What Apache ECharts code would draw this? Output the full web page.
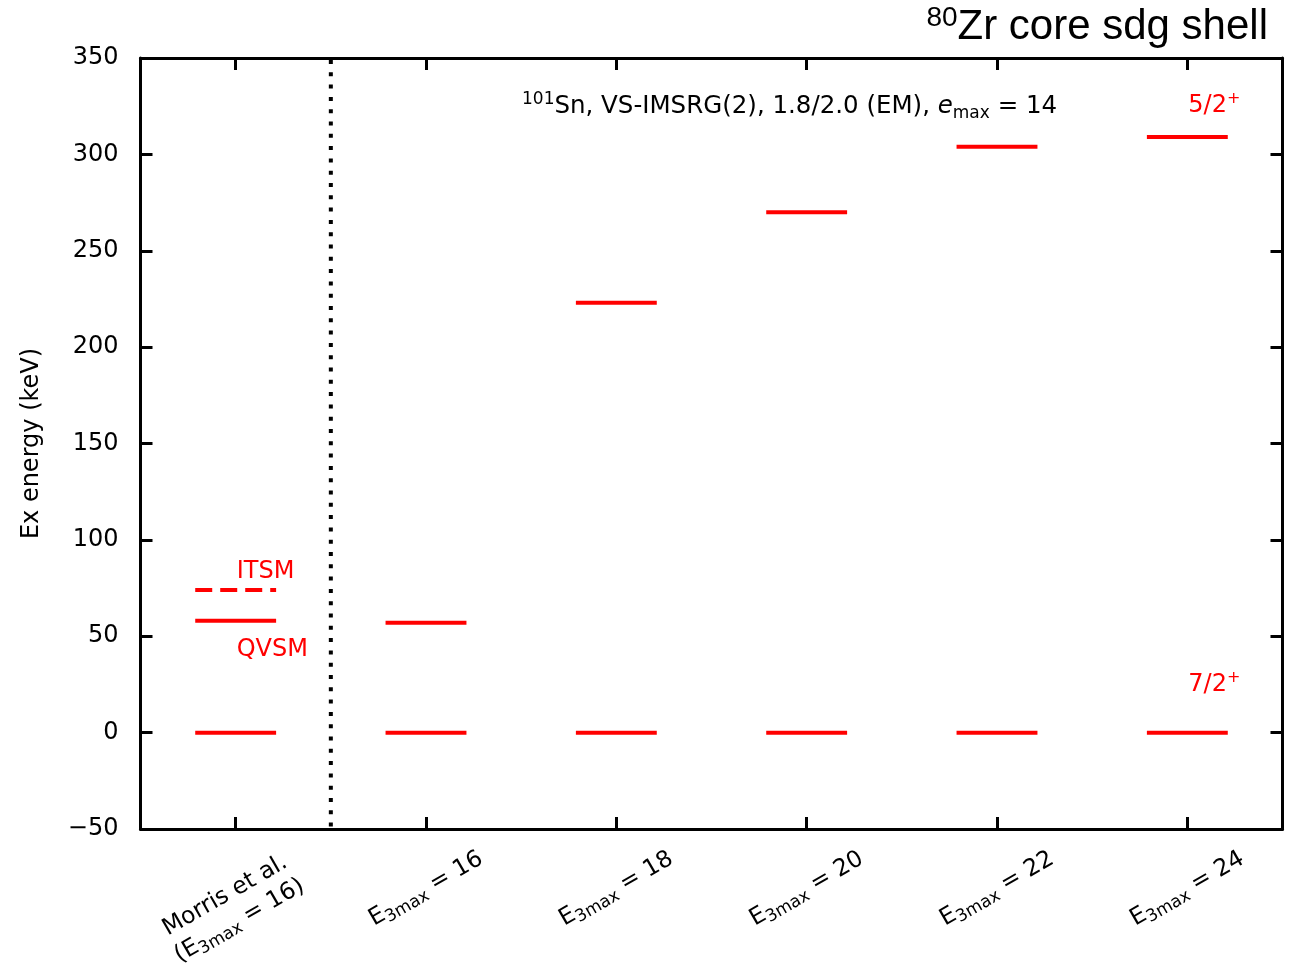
<!DOCTYPE html>
<html>
<head>
<meta charset="utf-8">
<script src="https://cdn.jsdelivr.net/npm/echarts@6/dist/echarts.min.js"></script>
<style>
  html, body { margin: 0; padding: 0; background: #fff; }
  #chart { width: 1299px; height: 968px; }
</style>
</head>
<body>
<div id="chart"></div>
<script>
// Calculation labels along the x axis
const categories = ['Morris et al.\n(E3max = 16)', 'E3max = 16', 'E3max = 18', 'E3max = 20', 'E3max = 22', 'E3max = 24'];
// 7/2+ ground-state level (keV)
const groundLevels = [0, 0, 0, 0, 0, 0];
// 5/2+ level (keV); first entry is the QVSM value of Morris et al.
const excitedLevels = [58, 57, 223, 270, 304, 309];
// 5/2+ level from ITSM (keV), Morris et al. only
const itsmLevels = [74, null, null, null, null, null];
// Energy axis range and step (keV)
const yMin = -50, yMax = 350, yStep = 50;

const FONT = 'DejaVu Sans';
const RED = '#ff0000';

const chart = echarts.init(document.getElementById('chart'), null, { renderer: 'canvas' });

// rich-text markup for "E3max" style labels
function lineToRich(line) {
  const parts = line.split('E3max');
  let out = '';
  parts.forEach((p, k) => {
    if (k > 0) out += '{e|E}{s|3max}';
    if (p.length) out += '{n|' + p + '}';
  });
  return out;
}
function toRich(str) {
  const lines = str.split('\n');
  if (lines.length === 1) return lineToRich(str);
  // two-line label: spacer line on top and spacer at line ends push it down-left
  return '{vg| }\n' + lines.map(l => lineToRich(l) + '{hg| }').join('\n');
}

function levelSeries(name, values, dashed) {
  const data = [];
  values.forEach((v, i) => { if (v !== null) data.push([i, v]); });
  return {
    type: 'custom',
    name,
    coordinateSystem: 'cartesian2d',
    encode: { x: 0, y: 1 },
    data,
    z: 5,
    renderItem(params, api) {
      const c = api.coord([api.value(0), api.value(1)]);
      const half = api.size([1, 0])[0] * 0.2125;
      return {
        type: 'line',
        shape: { x1: c[0] - half, y1: c[1], x2: c[0] + half, y2: c[1] },
        style: { stroke: RED, lineWidth: 4, lineDash: dashed ? [17, 8] : null, fill: null }
      };
    }
  };
}

// state labels placed next to the levels they name
const annotations = [
  { cat: 0, value: itsmLevels[0], text: '{t|ITSM}', dy: -18 },
  { cat: 0, value: excitedLevels[0], text: '{t|QVSM}', dy: 29 },
  { cat: 5, value: excitedLevels[5], text: '{t|5/2}{p|+}', dy: -31 },
  { cat: 5, value: groundLevels[5], text: '{t|7/2}{p|+}', dy: -48 }
];

const option = {
  backgroundColor: '#fff',
  animation: false,
  grid: { left: 140.5, right: 16.5, top: 58, bottom: 139, containLabel: false, outerBoundsMode: 'none' },
  title: {
    text: '{sup|80}{m|Zr core sdg shell}',
    right: 26,
    top: -1,
    textStyle: {
      rich: {
        sup: { fontFamily: 'Liberation Sans', fontWeight: 'normal', fontSize: 28, color: '#000', verticalAlign: 'top', lineHeight: 46 },
        m: { fontFamily: 'Liberation Sans', fontWeight: 'normal', fontSize: 42, color: '#000', lineHeight: 46 }
      }
    }
  },
  graphic: [{
    type: 'text',
    left: 522,
    top: 91,
    style: {
      text: '{sup|101}{n|Sn, VS-IMSRG(2), 1.8/2.0 (EM), }{i|e}{sub|max}{n| = 14}',
      rich: {
        sup: { fontFamily: FONT, fontSize: 17, fill: '#000', verticalAlign: 'top', lineHeight: 31 },
        n: { fontFamily: FONT, fontSize: 24.5, fill: '#000', lineHeight: 31 },
        i: { fontFamily: FONT, fontStyle: 'italic', fontSize: 24.5, fill: '#000', lineHeight: 31 },
        sub: { fontFamily: FONT, fontSize: 17, fill: '#000', verticalAlign: 'bottom', lineHeight: 31 }
      }
    },
    z: 10
  }],
  xAxis: [{
    type: 'category',
    data: categories,
    position: 'bottom',
    boundaryGap: true,
    axisLine: { onZero: false, lineStyle: { color: '#000', width: 3 } },
    axisTick: { show: true, inside: true, alignWithLabel: true, length: 12, lineStyle: { color: '#000', width: 3 } },
    splitLine: { show: false },
    axisLabel: {
      interval: 0,
      rotate: 30,
      margin: 60,
      align: 'center',
      verticalAlign: 'middle',
      formatter: v => toRich(v),
      rich: {
        n: { fontFamily: FONT, fontSize: 23.5, color: '#000', lineHeight: 29 },
        e: { fontFamily: FONT, fontSize: 23.5, color: '#000', lineHeight: 29 },
        s: { fontFamily: FONT, fontSize: 17, color: '#000', verticalAlign: 'bottom', lineHeight: 29 },
        vg: { fontSize: 10, lineHeight: 30, width: 1 },
        hg: { fontSize: 10, lineHeight: 29, width: 25 }
      }
    }
  }, {
    type: 'category',
    data: categories,
    position: 'top',
    boundaryGap: true,
    axisLine: { onZero: false, lineStyle: { color: '#000', width: 3 } },
    axisTick: { show: true, inside: true, alignWithLabel: true, length: 12, lineStyle: { color: '#000', width: 3 } },
    axisLabel: { show: false },
    splitLine: { show: false }
  }],
  yAxis: [{
    type: 'value',
    min: yMin, max: yMax, interval: yStep,
    position: 'left',
    name: 'Ex energy (keV)',
    nameLocation: 'middle',
    nameGap: 97,
    nameTextStyle: { fontFamily: FONT, fontSize: 24, color: '#000' },
    axisLine: { show: true, lineStyle: { color: '#000', width: 3 } },
    axisTick: { show: true, inside: true, length: 12, lineStyle: { color: '#000', width: 3 } },
    splitLine: { show: false },
    axisLabel: {
      margin: 22,
      fontFamily: FONT, fontSize: 24, color: '#000',
      formatter: v => String(v).replace('-', '\u2212')
    }
  }, {
    type: 'value',
    min: yMin, max: yMax, interval: yStep,
    position: 'right',
    axisLine: { show: true, lineStyle: { color: '#000', width: 3 } },
    axisTick: { show: true, inside: true, length: 12, lineStyle: { color: '#000', width: 3 } },
    splitLine: { show: false },
    axisLabel: { show: false }
  }],
  series: [
    // dotted separator between the reference calculation and the new ones
    {
      type: 'custom',
      coordinateSystem: 'cartesian2d',
      encode: { x: 0, y: 1 },
      data: [[0, 0]],
      z: 4,
      renderItem(params, api) {
        const c = api.coord([0, 0]);
        const band = api.size([1, 0])[0];
        const cs = params.coordSys;
        const x = c[0] + band / 2;
        return {
          type: 'line',
          shape: { x1: x, y1: cs.y + 2, x2: x, y2: cs.y + cs.height },
          style: { stroke: '#000', lineWidth: 4, lineDash: [4, 8.3], fill: null }
        };
      }
    },
    levelSeries('7/2+', groundLevels, false),
    levelSeries('5/2+', excitedLevels, false),
    levelSeries('5/2+ ITSM', itsmLevels, true),
    {
      type: 'custom',
      coordinateSystem: 'cartesian2d',
      encode: { x: 0, y: 1 },
      data: annotations.map(a => [a.cat, a.value]),
      z: 6,
      renderItem(params, api) {
        const a = annotations[params.dataIndex];
        const c = api.coord([api.value(0), api.value(1)]);
        return {
          type: 'text',
          x: c[0] + 1,
          y: c[1] + a.dy,
          style: {
            text: a.text,
            align: 'left',
            verticalAlign: 'middle',
            rich: {
              t: { fontFamily: FONT, fontSize: 24, fill: RED, lineHeight: 30 },
              p: { fontFamily: FONT, fontSize: 16, fill: RED, verticalAlign: 'top', lineHeight: 30 }
            }
          }
        };
      }
    }
  ]
};

chart.setOption(option);
</script>
</body>
</html>
